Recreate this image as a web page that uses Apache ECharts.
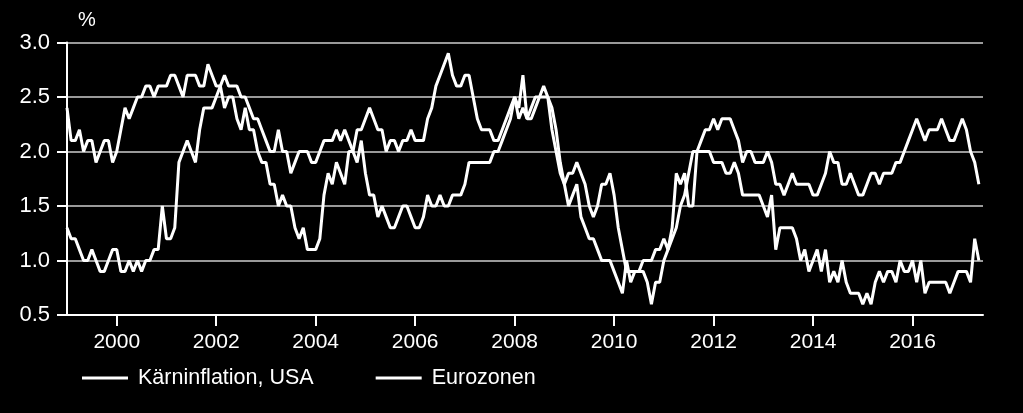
<!DOCTYPE html>
<html>
<head>
<meta charset="utf-8">
<script src="https://cdn.jsdelivr.net/npm/echarts@6/dist/echarts.min.js"></script>
<style>
  html, body { margin: 0; padding: 0; background: #000; }
  #chart { width: 1023px; height: 413px; }
</style>
</head>
<body>
<div id="chart"></div>
<script>
// Monthly data, Jan 1999 .. May 2017 (year-on-year, %)
const startYear = 1999;
const endYear = 2017;
const endMonth = 6; // axis runs through June 2017

const usCore = [
  2.4, 2.1, 2.1, 2.2, 2.0, 2.1, 2.1, 1.9, 2.0, 2.1, 2.1, 1.9, // 1999
  2.0, 2.2, 2.4, 2.3, 2.4, 2.5, 2.5, 2.6, 2.6, 2.5, 2.6, 2.6, // 2000
  2.6, 2.7, 2.7, 2.6, 2.5, 2.7, 2.7, 2.7, 2.6, 2.6, 2.8, 2.7, // 2001
  2.6, 2.6, 2.4, 2.5, 2.5, 2.3, 2.2, 2.4, 2.2, 2.2, 2.0, 1.9, // 2002
  1.9, 1.7, 1.7, 1.5, 1.6, 1.5, 1.5, 1.3, 1.2, 1.3, 1.1, 1.1, // 2003
  1.1, 1.2, 1.6, 1.8, 1.7, 1.9, 1.8, 1.7, 2.0, 2.0, 2.2, 2.2, // 2004
  2.3, 2.4, 2.3, 2.2, 2.2, 2.0, 2.1, 2.1, 2.0, 2.1, 2.1, 2.2, // 2005
  2.1, 2.1, 2.1, 2.3, 2.4, 2.6, 2.7, 2.8, 2.9, 2.7, 2.6, 2.6, // 2006
  2.7, 2.7, 2.5, 2.3, 2.2, 2.2, 2.2, 2.1, 2.1, 2.2, 2.3, 2.4, // 2007
  2.5, 2.3, 2.4, 2.3, 2.3, 2.4, 2.5, 2.5, 2.5, 2.2, 2.0, 1.8, // 2008
  1.7, 1.8, 1.8, 1.9, 1.8, 1.7, 1.5, 1.4, 1.5, 1.7, 1.7, 1.8, // 2009
  1.6, 1.3, 1.1, 0.9, 0.9, 0.9, 0.9, 0.9, 0.8, 0.6, 0.8, 0.8, // 2010
  1.0, 1.1, 1.2, 1.3, 1.5, 1.6, 1.8, 2.0, 2.0, 2.1, 2.2, 2.2, // 2011
  2.3, 2.2, 2.3, 2.3, 2.3, 2.2, 2.1, 1.9, 2.0, 2.0, 1.9, 1.9, // 2012
  1.9, 2.0, 1.9, 1.7, 1.7, 1.6, 1.7, 1.8, 1.7, 1.7, 1.7, 1.7, // 2013
  1.6, 1.6, 1.7, 1.8, 2.0, 1.9, 1.9, 1.7, 1.7, 1.8, 1.7, 1.6, // 2014
  1.6, 1.7, 1.8, 1.8, 1.7, 1.8, 1.8, 1.8, 1.9, 1.9, 2.0, 2.1, // 2015
  2.2, 2.3, 2.2, 2.1, 2.2, 2.2, 2.2, 2.3, 2.2, 2.1, 2.1, 2.2, // 2016
  2.3, 2.2, 2.0, 1.9, 1.7                                     // 2017
];

const euroCore = [
  1.3, 1.2, 1.2, 1.1, 1.0, 1.0, 1.1, 1.0, 0.9, 0.9, 1.0, 1.1, // 1999
  1.1, 0.9, 0.9, 1.0, 0.9, 1.0, 0.9, 1.0, 1.0, 1.1, 1.1, 1.5, // 2000
  1.2, 1.2, 1.3, 1.9, 2.0, 2.1, 2.0, 1.9, 2.2, 2.4, 2.4, 2.4, // 2001
  2.5, 2.6, 2.7, 2.6, 2.6, 2.6, 2.5, 2.5, 2.4, 2.3, 2.3, 2.2, // 2002
  2.1, 2.0, 2.0, 2.2, 2.0, 2.0, 1.8, 1.9, 2.0, 2.0, 2.0, 1.9, // 2003
  1.9, 2.0, 2.1, 2.1, 2.1, 2.2, 2.1, 2.2, 2.1, 2.0, 1.9, 2.1, // 2004
  1.8, 1.6, 1.6, 1.4, 1.5, 1.4, 1.3, 1.3, 1.4, 1.5, 1.5, 1.4, // 2005
  1.3, 1.3, 1.4, 1.6, 1.5, 1.5, 1.6, 1.5, 1.5, 1.6, 1.6, 1.6, // 2006
  1.7, 1.9, 1.9, 1.9, 1.9, 1.9, 1.9, 2.0, 2.0, 2.1, 2.2, 2.3, // 2007
  2.5, 2.4, 2.7, 2.3, 2.4, 2.5, 2.5, 2.6, 2.5, 2.4, 2.2, 1.9, // 2008
  1.7, 1.5, 1.6, 1.7, 1.4, 1.3, 1.2, 1.2, 1.1, 1.0, 1.0, 1.0, // 2009
  0.9, 0.8, 0.7, 1.0, 0.8, 0.9, 0.9, 1.0, 1.0, 1.0, 1.1, 1.1, // 2010
  1.2, 1.1, 1.3, 1.8, 1.7, 1.8, 1.5, 1.5, 2.0, 2.0, 2.0, 2.0, // 2011
  1.9, 1.9, 1.9, 1.8, 1.8, 1.9, 1.8, 1.6, 1.6, 1.6, 1.6, 1.6, // 2012
  1.5, 1.4, 1.6, 1.1, 1.3, 1.3, 1.3, 1.3, 1.2, 1.0, 1.1, 0.9, // 2013
  1.0, 1.1, 0.9, 1.1, 0.8, 0.9, 0.8, 1.0, 0.8, 0.7, 0.7, 0.7, // 2014
  0.6, 0.7, 0.6, 0.8, 0.9, 0.8, 0.9, 0.9, 0.8, 1.0, 0.9, 0.9, // 2015
  1.0, 0.8, 1.0, 0.7, 0.8, 0.8, 0.8, 0.8, 0.8, 0.7, 0.8, 0.9, // 2016
  0.9, 0.9, 0.8, 1.2, 1.0                                     // 2017
];

const seriesNames = ['Kärninflation, USA', 'Eurozonen'];
const yTicks = { min: 0.5, max: 3.0, step: 0.5 };
const tickYears = [2000, 2002, 2004, 2006, 2008, 2010, 2012, 2014, 2016];

// month categories "YYYY-MM"
const months = [];
for (let y = startYear; y <= endYear; y++) {
  for (let m = 1; m <= 12; m++) {
    if (y === endYear && m > endMonth) break;
    months.push(y + '-' + (m < 10 ? '0' + m : m));
  }
}

const isYearTick = (idx, val) => {
  const v = val || months[idx];
  return v.endsWith('-01') && tickYears.indexOf(+v.slice(0, 4)) >= 0;
};

const FONT = '"Liberation Sans", Arial, sans-serif';
const chart = echarts.init(document.getElementById('chart'), null, { renderer: 'canvas' });
chart.setOption({
  backgroundColor: '#000',
  animation: false,
  textStyle: { fontFamily: FONT, color: '#fff' },
  grid: { left: 67, right: 40, top: 42.5, bottom: 98, containLabel: false },
  legend: {
    left: 82, top: 367, padding: 0,
    icon: 'rect', itemWidth: 46, itemHeight: 3, itemGap: 62,
    textStyle: { color: '#fff', fontSize: 21.5, fontFamily: FONT, padding: [0, 0, 0, 5] },
    data: seriesNames
  },
  xAxis: {
    type: 'category',
    data: months,
    boundaryGap: false,
    axisLine: { lineStyle: { color: '#fff', width: 2 } },
    axisTick: { show: true, interval: isYearTick, length: 11, lineStyle: { color: '#fff', width: 2 } },
    axisLabel: {
      interval: isYearTick, margin: 17, color: '#fff', fontSize: 21, fontFamily: FONT,
      formatter: v => v.slice(0, 4)
    },
    splitLine: { show: false }
  },
  yAxis: {
    type: 'value',
    min: yTicks.min, max: yTicks.max, interval: yTicks.step,
    name: '%',
    nameLocation: 'end',
    nameGap: 12,
    nameTextStyle: { color: '#fff', fontSize: 20, fontFamily: FONT, align: 'left', padding: [0, 0, 0, 11] },
    axisLine: { show: true, lineStyle: { color: '#fff', width: 2 } },
    axisTick: { show: true, length: 10, lineStyle: { color: '#fff', width: 2 } },
    axisLabel: { margin: 17, color: '#fff', fontSize: 22, fontFamily: FONT, formatter: v => v.toFixed(1) },
    splitLine: { show: true, lineStyle: { color: '#9a9a9a', width: 2 } }
  },
  series: [
    {
      name: seriesNames[0], type: 'line', data: usCore, symbol: 'none',
      lineStyle: { color: '#fff', width: 3 }, itemStyle: { color: '#fff' }
    },
    {
      name: seriesNames[1], type: 'line', data: euroCore, symbol: 'none',
      lineStyle: { color: '#fff', width: 3 }, itemStyle: { color: '#fff' }
    }
  ]
});
</script>
</body>
</html>
